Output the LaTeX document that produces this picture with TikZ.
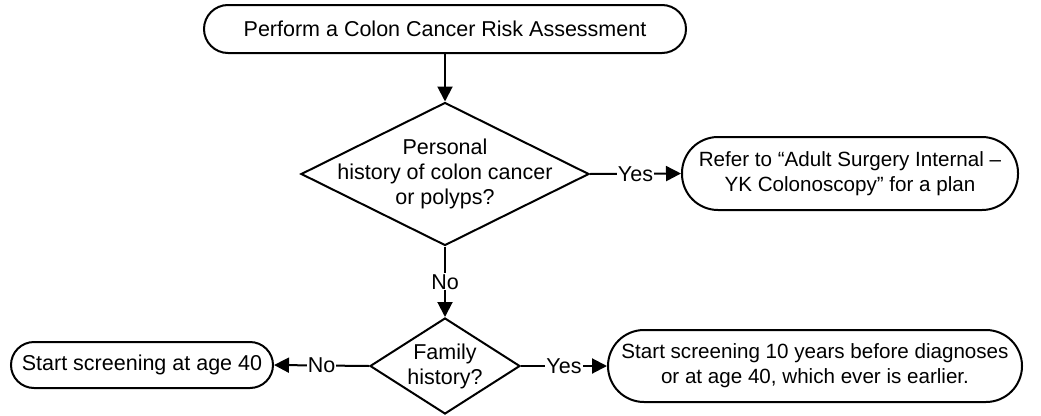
\documentclass[tikz,border=0pt]{standalone}
\usepackage{fontspec}
\setmainfont{Liberation Sans}
\usetikzlibrary{shapes.geometric,arrows.meta}
\begin{document}
\begin{tikzpicture}[x=1pt,y=-1pt,
  every node/.style={font=\fontsize{21.5}{25}\selectfont},
  term/.style={draw, line width=2pt, rectangle, align=center, inner sep=0pt},
  smalltext/.style={font=\fontsize{20.6}{25}\selectfont},
  decide/.style={draw, line width=2pt, diamond, inner sep=0pt},
  lab/.style={fill=white, inner sep=1pt},
  conn/.style={line width=2pt, -{Triangle[length=15pt,width=15pt]}}]
\useasboundingbox (0,0) rectangle (1041,415);
\node[term, minimum width=482pt, minimum height=48pt, rounded corners=24pt] (a) at (445,29) {Perform a Colon Cancer Risk Assessment};
\node[decide, minimum width=288pt, minimum height=143pt,
  label={[align=center]center:Personal\\history of colon cancer\\or polyps?}] (d1) at (445,174) {};
\node[term, smalltext, minimum width=336pt, minimum height=73pt, rounded corners=36pt] (b) at (850,173.5) {Refer to “Adult Surgery Internal –\\YK Colonoscopy” for a plan};
\node[decide, minimum width=150pt, minimum height=96pt,
  label={[align=center]center:Family\\history?}] (d2) at (445,366) {};
\node[term, minimum width=262pt, minimum height=46pt, rounded corners=23pt] (c) at (142,365) {Start screening at age 40};
\node[term, smalltext, minimum width=414pt, minimum height=72pt, rounded corners=36pt] (e) at (815,366) {Start screening 10 years before diagnoses\\or at age 40, which ever is earlier.};
\draw[conn] (a) -- (d1);
\draw[conn] (d1.east) -- node[lab] (y1) {Yes} (b.west);
\draw[conn] (d1.south) -- node[lab] (n1) {No} (d2.north);
\draw[conn] (d2.west) -- node[lab] (n2) {No} (c.east);
\draw[conn] (d2.east) -- node[lab] (y2) {Yes} (e.west);
\end{tikzpicture}
\end{document}
